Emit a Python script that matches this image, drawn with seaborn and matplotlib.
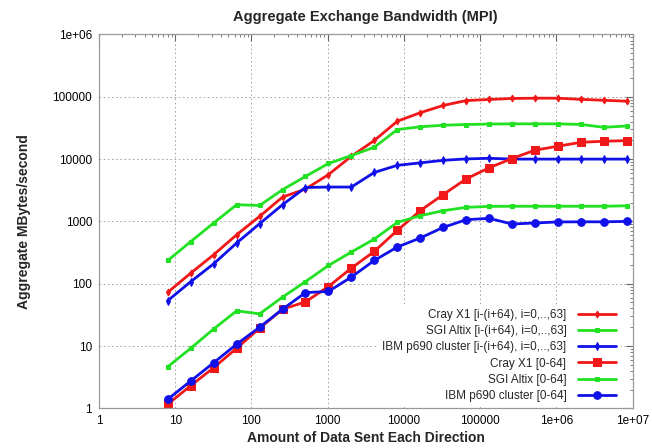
import numpy as np
import pandas as pd
import matplotlib
matplotlib.use("Agg")
import matplotlib.pyplot as plt
import seaborn as sns
from matplotlib.ticker import LogLocator, FixedLocator, FixedFormatter, NullFormatter

# ---------------- data ----------------
msg_size = [8, 16, 32, 64, 128, 256, 512, 1024, 2048, 4096, 8192, 16384, 32768,
            65536, 131072, 262144, 524288, 1048576, 2097152, 4194304, 8388608]

cray_pair = [73, 148, 292, 611, 1203, 2460, 3300, 5640, 11100, 19900, 40500, 55500,
             72600, 87000, 90600, 94000, 95000, 95000, 91000, 88000, 85000]
sgi_pair = [236, 475, 943, 1855, 1800, 3230, 5270, 8500, 11400, 15500, 29800, 33000,
            35000, 35900, 36500, 36800, 36800, 36800, 36000, 32400, 34000]
ibm_pair = [53.6, 108, 209, 450, 918, 1855, 3500, 3560, 3560, 6110, 7940, 8700,
            9560, 10070, 10300, 10000, 10000, 10000, 10000, 10000, 10000]
cray_064 = [1.17, 2.31, 4.5, 9.2, 19.3, 39, 51, 90, 178, 330, 716, 1485,
            2690, 4800, 7250, 10200, 13900, 16100, 18600, 19350, 19800]
sgi_064 = [4.66, 9.2, 18.8, 36.7, 32.8, 60.9, 108, 196, 322, 521, 964, 1235,
           1485, 1680, 1740, 1750, 1750, 1750, 1750, 1750, 1780]
ibm_064 = [1.4, 2.75, 5.4, 10.7, 20, 39, 72, 75, 128, 236, 388, 541,
           801, 1064, 1120, 908, 943, 980, 985, 985, 1000]

labels = ["Cray X1 [i-(i+64), i=0,..,63]",
          "SGI Altix [i-(i+64), i=0,..,63]",
          "IBM p690 cluster [i-(i+64), i=0,..,63]",
          "Cray X1 [0-64]",
          "SGI Altix [0-64]",
          "IBM p690 cluster [0-64]"]
series_values = [cray_pair, sgi_pair, ibm_pair, cray_064, sgi_064, ibm_064]

x_ticks = [1, 10, 100, 1000, 10000, 100000, 1e6, 1e7]
x_tick_labels = ["1", "10", "100", "1000", "10000", "100000", "1e+06", "1e+07"]
y_ticks = [1, 10, 100, 1000, 10000, 100000, 1e6]
y_tick_labels = ["1", "10", "100", "1000", "10000", "100000", "1e+06"]

# ---------------- style ----------------
sns.set_style("white")
plt.rcParams["font.family"] = ["Liberation Sans", "DejaVu Sans"]

RED = "#f01818"
GREEN = "#22e022"
BLUE = "#1010e8"
styles = [
    dict(color=RED, marker="d", markersize=3.5),
    dict(color=GREEN, marker="s", markersize=3.5),
    dict(color=BLUE, marker="d", markersize=4),
    dict(color=RED, marker="s", markersize=5.5),
    dict(color=GREEN, marker="s", markersize=3.5),
    dict(color=BLUE, marker="o", markersize=5.5),
]

df = pd.DataFrame({
    "size": np.tile(msg_size, len(labels)),
    "bw": np.concatenate([np.asarray(v, float) for v in series_values]),
    "series": np.repeat(labels, len(msg_size)),
})

fig = plt.figure(figsize=(6.52, 4.48), dpi=100)
ax = fig.add_axes([99 / 652, 1 - 408.3 / 448, 533.5 / 652, 373.8 / 448])

for lab, st in zip(labels, styles):
    sub = df[df["series"] == lab]
    sns.lineplot(data=sub, x="size", y="bw", ax=ax, label=lab,
                 color=st["color"], marker=st["marker"], markersize=st["markersize"],
                 markeredgecolor=st["color"], linewidth=2.0, estimator=None, sort=False)

ax.set_xscale("log")
ax.set_yscale("log")
ax.set_xlim(1, 1e7)
ax.set_ylim(1, 1e6)

ax.xaxis.set_major_locator(FixedLocator(x_ticks))
ax.xaxis.set_major_formatter(FixedFormatter(x_tick_labels))
ax.yaxis.set_major_locator(FixedLocator(y_ticks))
ax.yaxis.set_major_formatter(FixedFormatter(y_tick_labels))
ax.xaxis.set_minor_locator(LogLocator(base=10, subs=np.arange(2, 10), numticks=20))
ax.yaxis.set_minor_locator(LogLocator(base=10, subs=np.arange(2, 10), numticks=20))
ax.xaxis.set_minor_formatter(NullFormatter())
ax.yaxis.set_minor_formatter(NullFormatter())

ax.tick_params(which="both", direction="in", top=True, right=True, colors="#666666",
               labelcolor="black", labelsize=8.5)
ax.tick_params(which="major", length=5, width=0.8, pad=5)
ax.tick_params(which="minor", length=2.5, width=0.6)

ax.grid(True, which="major", linestyle=(0, (2, 3)), color="#999999", linewidth=0.6)
ax.set_axisbelow(True)
for sp in ax.spines.values():
    sp.set_color("#999999")
    sp.set_linewidth(0.9)

ax.set_title("Aggregate Exchange Bandwidth (MPI)", fontsize=10.5, fontweight="bold", pad=10)
ax.set_xlabel("Amount of Data Sent Each Direction", fontsize=10, fontweight="bold", labelpad=3)
ax.set_ylabel("Aggregate MBytes/second", fontsize=10, fontweight="bold", labelpad=15)

leg = ax.legend(loc="lower right", bbox_to_anchor=(0.978, 0.004), borderaxespad=0.0,
                frameon=True, markerfirst=False, fontsize=8.5, handlelength=3.2,
                handletextpad=1.0, labelspacing=0.36, fancybox=False)
leg.get_frame().set_facecolor("white")
leg.get_frame().set_edgecolor("none")
leg.get_frame().set_alpha(1.0)

fig.savefig("out.png", dpi=100)
